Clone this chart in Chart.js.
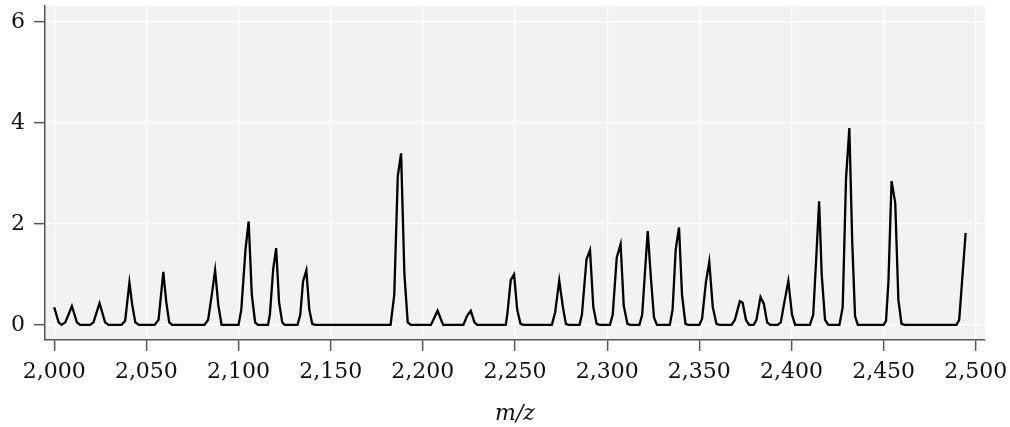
<!DOCTYPE html>
<html>
<head>
<meta charset="utf-8">
<script src="https://cdn.jsdelivr.net/npm/chart.js@4"></script>
<style>
  html, body { margin: 0; padding: 0; background: #fff; }
  #wrap { width: 1010px; height: 427px; }
</style>
</head>
<body>
<div id="wrap"><canvas id="spectrum" width="1010" height="427"></canvas></div>
<script>
// --- Spectrum data ---
const mz = [
  2000, 2002.4, 2004, 2006, 2009.6, 2012.3, 2014,
  2019.5, 2021.3, 2024.6, 2027.6, 2029.5,
  2036.5, 2038.5, 2040.8, 2042.3, 2044, 2046,
  2054.5, 2056.6, 2059.2, 2060.8, 2062.4, 2064,
  2081.5, 2083.5, 2085.5, 2087.3, 2089, 2090.8,
  2100, 2101.5, 2103.8, 2105.5, 2107.2, 2109, 2110.5,
  2116, 2117, 2118.8, 2120.4, 2122, 2123.7, 2125,
  2132, 2133.5, 2135, 2136.8, 2138.4, 2140, 2141.5,
  2182.5, 2184.5, 2186.4, 2188.2, 2190, 2191.8, 2193.5,
  2204.4, 2208, 2211,
  2222, 2224, 2226, 2228, 2229.5,
  2245, 2245.8, 2247.7, 2249.5, 2251.2, 2253, 2254.5,
  2270, 2271.8, 2274, 2276, 2277.6, 2279,
  2285, 2286.3, 2288.8, 2290.7, 2292.5, 2294.3, 2296,
  2301.5, 2303, 2305.2, 2307.3, 2309, 2311, 2312.5,
  2317.5, 2319, 2322, 2323.8, 2325.4, 2327,
  2334, 2335.5, 2337.2, 2339, 2340.6, 2342.5, 2344,
  2350, 2351.5, 2353.6, 2355.4, 2357.3, 2359.3, 2361,
  2367.5, 2369.3, 2372, 2373.5, 2375.3, 2377,
  2379.5, 2381, 2383.2, 2385, 2386.8, 2388.5,
  2392.5, 2394.2, 2396.4, 2398.3, 2400.3, 2402,
  2410, 2411.8, 2413.4, 2415, 2416.4, 2418.2, 2420,
  2426, 2427.8, 2429.6, 2431.4, 2433, 2434.5, 2436,
  2450, 2451.3, 2452.6, 2454.3, 2456.3, 2458, 2459.7, 2461.5,
  2489.5, 2491, 2494.5
];
const intensity = [
  0.35, 0.05, 0, 0.05, 0.37, 0.05, 0,
  0, 0.05, 0.43, 0.05, 0,
  0, 0.08, 0.84, 0.4, 0.05, 0,
  0, 0.1, 1.05, 0.45, 0.05, 0,
  0, 0.1, 0.6, 1.08, 0.4, 0,
  0, 0.3, 1.5, 2.05, 0.6, 0.05, 0,
  0, 0.2, 1.1, 1.52, 0.45, 0.05, 0,
  0, 0.2, 0.86, 1.08, 0.3, 0.02, 0,
  0, 0.6, 2.95, 3.4, 1.0, 0.05, 0,
  0, 0.28, 0,
  0, 0.18, 0.28, 0.05, 0,
  0, 0.2, 0.89, 1.0, 0.3, 0.02, 0,
  0, 0.25, 0.88, 0.35, 0.02, 0,
  0, 0.2, 1.3, 1.48, 0.35, 0.02, 0,
  0, 0.2, 1.33, 1.6, 0.38, 0.02, 0,
  0, 0.2, 1.86, 0.9, 0.15, 0,
  0, 0.3, 1.5, 1.93, 0.6, 0.02, 0,
  0, 0.12, 0.85, 1.25, 0.35, 0.02, 0,
  0, 0.1, 0.47, 0.44, 0.1, 0,
  0, 0.1, 0.55, 0.42, 0.05, 0,
  0, 0.05, 0.5, 0.87, 0.2, 0,
  0, 0.2, 1.3, 2.45, 1.0, 0.1, 0,
  0, 0.35, 2.9, 3.9, 1.6, 0.17, 0,
  0, 0.08, 0.85, 2.85, 2.42, 0.5, 0.02, 0,
  0, 0.1, 1.82
];
const xTicks = [2000, 2050, 2100, 2150, 2200, 2250, 2300, 2350, 2400, 2450, 2500];
const yTicks = [0, 2, 4, 6];

const serif = 'DejaVu Serif';
const inkColor = '#111';
const axisColor = '#555';

// grey panel behind the plot
const panelBg = {
  id: 'panelBg',
  beforeDraw(chart) {
    const { ctx, chartArea: a } = chart;
    ctx.save();
    ctx.fillStyle = '#fff';
    ctx.fillRect(0, 0, chart.width, chart.height);
    ctx.fillStyle = '#f2f2f2';
    ctx.fillRect(a.left, a.top, a.right - a.left, a.bottom - a.top);
    ctx.restore();
  }
};

const ctx = document.getElementById('spectrum').getContext('2d');
new Chart(ctx, {
  type: 'line',
  data: {
    datasets: [{
      data: mz.map((x, i) => ({ x, y: intensity[i] })),
      borderColor: '#000',
      borderWidth: 2.3,
      pointRadius: 0,
      tension: 0,
      fill: false,
    }]
  },
  options: {
    responsive: false,
    animation: false,
    devicePixelRatio: 1,
    layout: { padding: { top: 6, right: 25, left: 0, bottom: 0 } },
    plugins: { legend: { display: false }, tooltip: { enabled: false } },
    scales: {
      x: {
        type: 'linear',
        min: 1995,
        max: 2505,
        afterBuildTicks: axis => { axis.ticks = xTicks.map(value => ({ value })); },
        afterFit: axis => {
          axis.height = 87;
          axis.paddingLeft = 0;
          axis.paddingRight = 0;
        },
        grid: { color: '#fff', lineWidth: 1.3, tickColor: axisColor, tickLength: 11, tickWidth: 1.5 },
        border: { display: true, color: axisColor, width: 1.5 },
        ticks: {
          color: inkColor,
          padding: 8,
          maxRotation: 0,
          font: { family: serif, size: 22 },
          callback: v => v.toLocaleString('en-US'),
        },
        title: {
          display: true,
          text: 'm/z',
          color: inkColor,
          font: { family: serif, size: 22, style: 'italic' },
          padding: { top: 0, bottom: 0 },
        }
      },
      y: {
        min: -0.3,
        max: 6.32,
        afterBuildTicks: axis => { axis.ticks = yTicks.map(value => ({ value })); },
        afterFit: axis => {
          axis.width = 45;
          axis.paddingTop = 0;
          axis.paddingBottom = 0;
        },
        grid: { color: '#fff', lineWidth: 1.3, tickColor: axisColor, tickLength: 11, tickWidth: 1.5 },
        border: { display: true, color: axisColor, width: 1.5 },
        ticks: {
          color: inkColor,
          padding: 9,
          font: { family: serif, size: 22 },
        }
      }
    }
  },
  plugins: [panelBg]
});
</script>
</body>
</html>
